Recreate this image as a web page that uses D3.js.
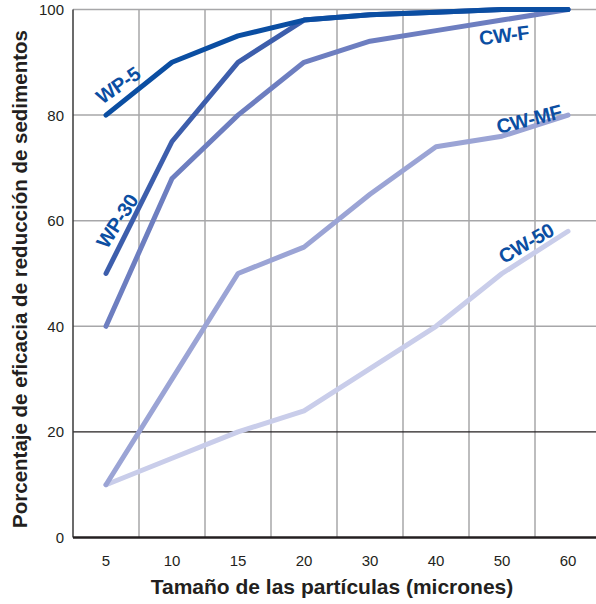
<!DOCTYPE html>
<html>
<head>
<meta charset="utf-8">
<script src="https://cdn.jsdelivr.net/npm/d3@7"></script>
<style>
html,body{margin:0;padding:0;background:#fff;}
svg{display:block;}
</style>
</head>
<body>
<script>
const categories = ["5","10","15","20","30","40","50","60"];
const yTicks = [0,20,40,60,80,100];
const seriesNames = ["CW-50","CW-MF","CW-F","WP-30","WP-5"];
const cw50 = [10,15,20,24,32,40,50,58];
const cwmf = [10,30,50,55,65,74,76,80];
const cwf  = [40,68,80,90,94,96,98,100];
const wp30 = [50,75,90,98,99,99.5,100,100];
const wp5  = [80,90,95,98,99,99.5,100,100];
const seriesColors = ["#c9cdea","#9ba4d5","#6d7ec0","#3d5eac","#0b4ea2"];
const labelText = ["CW-50","CW-MF","CW-F","WP-30","WP-5"];

const W = 596, H = 604;
const svg = d3.select("body").append("svg").attr("width", W).attr("height", H);

const x = d3.scaleBand().domain(categories).range([73, 73 + 66*8]).paddingInner(0).paddingOuter(0);
const y = d3.scaleLinear().domain([0,100]).range([537.5, 9.5]);
const cx = c => x(c) + x.bandwidth()/2;

const g = svg.append("g");
categories.slice(1).forEach(c => {
  g.append("line").attr("x1", x(c)).attr("x2", x(c)).attr("y1", y(100)).attr("y2", y(0))
    .attr("stroke", "#a7a7a9").attr("stroke-width", 1.5);
});
yTicks.forEach(t => {
  if (t === 0) return;
  g.append("line").attr("x1", 73).attr("x2", W).attr("y1", y(t)).attr("y2", y(t))
    .attr("stroke", t === 20 ? "#231f20" : "#a7a7a9").attr("stroke-width", t === 20 ? 1.2 : 1.5);
});
g.append("line").attr("x1", 73).attr("x2", 73).attr("y1", y(100)).attr("y2", y(0))
  .attr("stroke", "#3a3a3a").attr("stroke-width", 1.5);

svg.append("g").selectAll("text").data(yTicks).join("text")
  .attr("x", 64).attr("y", d => y(d) + 5.5)
  .attr("text-anchor", "end")
  .attr("font-family", "Liberation Sans, Arial, sans-serif")
  .attr("font-size", 15).attr("fill", "#231f20")
  .text(d => d);

svg.append("g").selectAll("text").data(categories).join("text")
  .attr("x", d => cx(d)).attr("y", 566)
  .attr("text-anchor", "middle")
  .attr("font-family", "Liberation Sans, Arial, sans-serif")
  .attr("font-size", 15).attr("fill", "#231f20")
  .text(d => d);

const allData = [cw50, cwmf, cwf, wp30, wp5];
const line = d3.line().x((d,i) => cx(categories[i])).y(d => y(d));
allData.forEach((vals, k) => {
  svg.append("path").datum(vals).attr("d", line)
    .attr("fill", "none").attr("stroke", seriesColors[k])
    .attr("stroke-width", 5).attr("stroke-linejoin", "round").attr("stroke-linecap", "round");
});

svg.append("line").attr("x1", 73).attr("x2", W).attr("y1", y(0)).attr("y2", y(0))
  .attr("stroke", "#231f20").attr("stroke-width", 2.5);

const labelPos = [
  {cx: 526, cy: 243, r: -30},
  {cx: 529, cy: 119, r: -14},
  {cx: 504, cy: 35, r: -7},
  {cx: 117, cy: 221, r: -57},
  {cx: 118, cy: 85, r: -35}
];
labelText.forEach((t, k) => {
  const p = labelPos[k];
  svg.append("text")
    .attr("transform", `translate(${p.cx},${p.cy}) rotate(${p.r})`)
    .attr("text-anchor", "middle").attr("dy", "0.36em")
    .attr("font-family", "Liberation Sans, Arial, sans-serif")
    .attr("font-weight", "bold").attr("font-size", 20)
    .attr("letter-spacing", "-0.4")
    .attr("fill", "#0b4ea2")
    .text(t);
});

svg.append("text")
  .attr("x", 332).attr("y", 594)
  .attr("text-anchor", "middle")
  .attr("font-family", "Liberation Sans, Arial, sans-serif")
  .attr("font-weight", "bold").attr("font-size", 21).attr("fill", "#231f20")
  .text("Tamaño de las partículas (micrones)");

svg.append("text")
  .attr("transform", "translate(27,279) rotate(-90)")
  .attr("text-anchor", "middle")
  .attr("font-family", "Liberation Sans, Arial, sans-serif")
  .attr("font-weight", "bold").attr("font-size", 20.5).attr("fill", "#231f20")
  .text("Porcentaje de eficacia de reducción de sedimentos");
</script>
</body>
</html>
